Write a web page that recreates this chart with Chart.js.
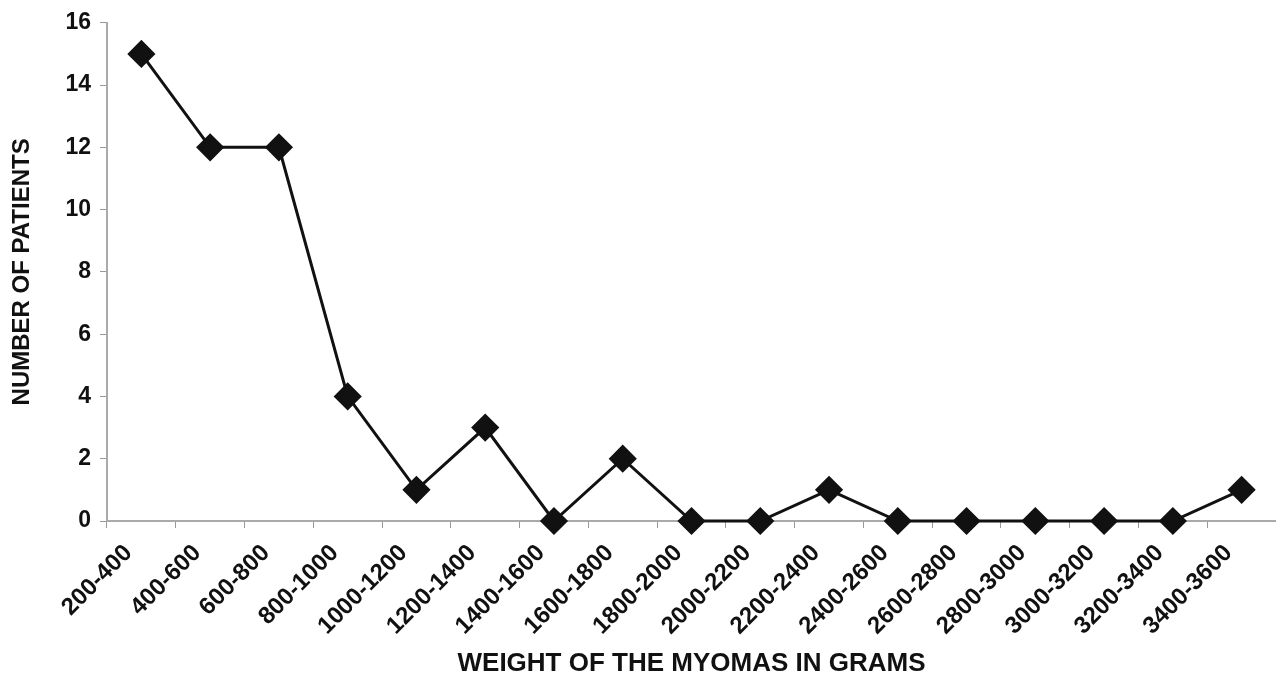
<!DOCTYPE html>
<html>
<head>
<meta charset="utf-8">
<script src="https://cdn.jsdelivr.net/npm/chart.js@4"></script>
<style>
  html, body { margin: 0; padding: 0; background: #fff; }
  #wrap { width: 1276px; height: 675px; }
</style>
</head>
<body>
<div id="wrap"><canvas id="chart" width="1276" height="675"></canvas></div>
<script>
// weight classes (grams) and number of patients in each
const weightClasses = ['200-400', '400-600', '600-800', '800-1000', '1000-1200', '1200-1400',
  '1400-1600', '1600-1800', '1800-2000', '2000-2200', '2200-2400', '2400-2600',
  '2600-2800', '2800-3000', '3000-3200', '3200-3400', '3400-3600'];
const patients = [15, 12, 12, 4, 1, 3, 0, 2, 0, 0, 1, 0, 0, 0, 0, 0, 1];
const yTicks = [0, 2, 4, 6, 8, 10, 12, 14, 16];

const fam = "'Liberation Sans', Arial, sans-serif";

new Chart(document.getElementById('chart'), {
  type: 'line',
  data: {
    labels: weightClasses,
    datasets: [{
      data: patients,
      borderColor: '#111',
      backgroundColor: '#111',
      borderWidth: 3,
      pointStyle: 'rectRot',
      pointRadius: 12,
      pointHoverRadius: 12,
      tension: 0,
      clip: false
    }]
  },
  options: {
    responsive: false,
    animation: false,
    layout: { autoPadding: false, padding: { top: 20, right: 0, left: 8, bottom: 0 } },
    plugins: { legend: { display: false }, tooltip: { enabled: false } },
    scales: {
      x: {
        offset: true,
        grid: { offset: true, drawOnChartArea: false, color: '#999', tickLength: 7 },
        border: { color: '#aaa', width: 2 },
        ticks: { color: '#111', font: { family: fam, size: 24, weight: 'bold' }, maxRotation: 45, minRotation: 45, autoSkip: false, padding: 11, labelOffset: -13 },
        title: { display: true, text: 'WEIGHT OF THE MYOMAS IN GRAMS', color: '#111', font: { family: fam, size: 26, weight: 'bold' }, padding: { top: 0, bottom: -4 } },
        afterFit: (s) => { s.height = 675 - 521; s.paddingRight = 0; }
      },
      y: {
        min: 0,
        max: 16,
        afterBuildTicks: (s) => { s.ticks = yTicks.map(v => ({ value: v })); },
        grid: { drawOnChartArea: false, color: '#999', tickLength: 7 },
        border: { color: '#aaa', width: 2 },
        ticks: { color: '#111', font: { family: fam, size: 23, weight: 'bold' }, padding: 9 },
        title: { display: true, text: 'NUMBER OF PATIENTS', color: '#111', font: { family: fam, size: 24, weight: 'bold' }, padding: 0 },
        afterFit: (s) => { s.width = 107 - 8; }
      }
    }
  }
});
</script>
</body>
</html>
